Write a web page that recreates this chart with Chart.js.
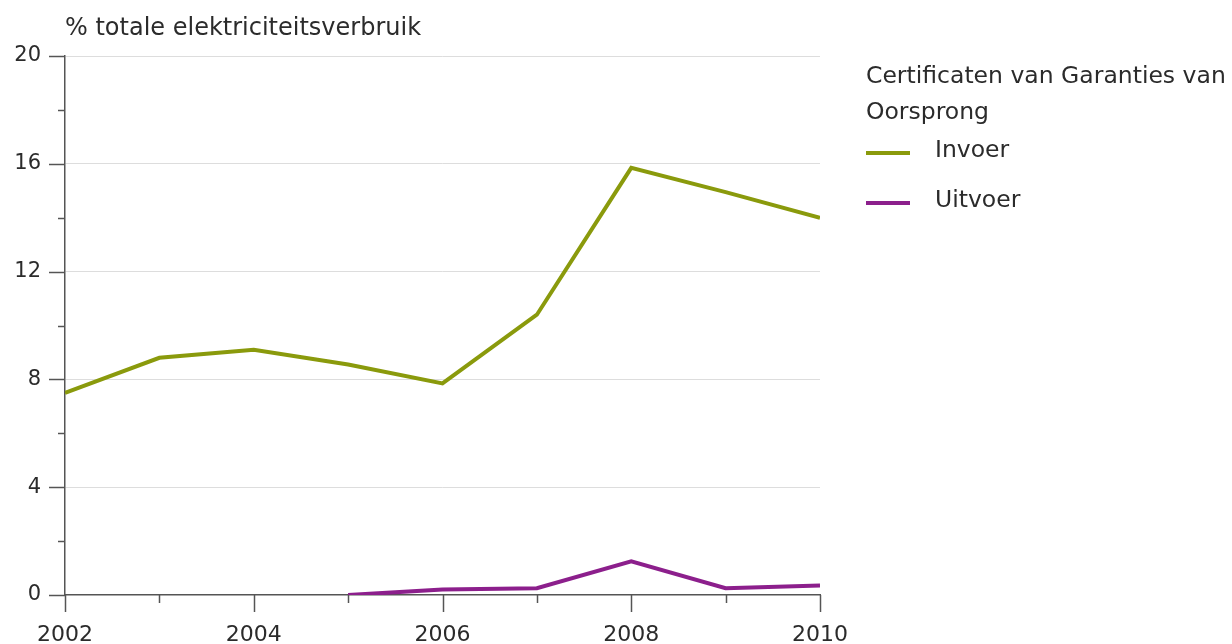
<!DOCTYPE html>
<html>
<head>
<meta charset="utf-8">
<script src="https://cdn.jsdelivr.net/npm/chart.js@4.4.0/dist/chart.umd.min.js"></script>
<style>
  html, body { margin: 0; padding: 0; background: #fff; }
  #wrap { width: 1232px; height: 644px; }
</style>
</head>
<body>
<div id="wrap"><canvas id="myChart" width="1232" height="644"></canvas></div>
<script>
// data
var years = [2002, 2003, 2004, 2005, 2006, 2007, 2008, 2009, 2010];
var invoer = [7.5, 8.8, 9.1, 8.55, 7.85, 10.4, 15.85, 14.95, 14.0];
var uitvoerYears = [2005, 2006, 2007, 2008, 2009, 2010];
var uitvoer = [0.0, 0.2, 0.25, 1.25, 0.25, 0.35];
var yTicks = [0, 4, 8, 12, 16, 20];

var unitLabel = '% totale elektriciteitsverbruik';
var legendTitle = ['Certificaten van Garanties van', 'Oorsprong'];
var seriesNames = ['Invoer', 'Uitvoer'];
var seriesColors = ['#8a9a0c', '#8c1f8c'];

var fontFamily = '"DejaVu Sans", "Open Sans", sans-serif';
var textColor = '#2b2b2b';
var axisColor = '#555555';

function toPoints(xs, ys) {
    return xs.map(function (x, i) { return { x: x, y: ys[i] }; });
}

// axis ticks, unit label and legend
var extrasPlugin = {
    id: 'extras',
    afterDraw: function (chart) {
        var ctx = chart.ctx;
        var xs = chart.scales.x;
        var ys = chart.scales.y;
        var area = chart.chartArea;
        ctx.save();
        ctx.strokeStyle = axisColor;
        ctx.lineWidth = 1.5;
        // y ticks every 2, long ones at labels
        for (var v = 0; v <= 20; v += 2) {
            var py = Math.round(ys.getPixelForValue(v)) + 0.5;
            var len = (v % 4 === 0) ? 16 : 7;
            ctx.beginPath();
            ctx.moveTo(area.left - len, py);
            ctx.lineTo(area.left, py);
            ctx.stroke();
        }
        // x ticks every year
        years.forEach(function (yr) {
            var px = Math.round(xs.getPixelForValue(yr)) + 0.5;
            var len = (yr % 2 === 0) ? 17 : 8;
            ctx.beginPath();
            ctx.moveTo(px, area.bottom);
            ctx.lineTo(px, area.bottom + len);
            ctx.stroke();
        });

        ctx.fillStyle = textColor;
        ctx.textBaseline = 'alphabetic';
        ctx.textAlign = 'left';
        ctx.font = '24px ' + fontFamily;
        ctx.fillText(unitLabel, area.left, 35);

        // legend
        var lx = 866;
        ctx.font = '23.5px ' + fontFamily;
        ctx.fillText(legendTitle[0], lx, 83);
        ctx.fillText(legendTitle[1], lx, 119);
        var rows = [153, 203];
        seriesNames.forEach(function (name, i) {
            ctx.strokeStyle = seriesColors[i];
            ctx.lineWidth = 4;
            ctx.beginPath();
            ctx.moveTo(lx, rows[i]);
            ctx.lineTo(lx + 44, rows[i]);
            ctx.stroke();
            ctx.fillStyle = textColor;
            ctx.textBaseline = 'middle';
            ctx.fillText(name, lx + 69, rows[i] - 2);
        });
        ctx.restore();
    }
};

var ctx = document.getElementById('myChart');
var myChart = new Chart(ctx, {
    type: 'line',
    data: {
        datasets: [
            {
                label: seriesNames[0],
                data: toPoints(years, invoer),
                borderColor: seriesColors[0],
                borderWidth: 4,
                pointRadius: 0,
                tension: 0,
                fill: false
            },
            {
                label: seriesNames[1],
                data: toPoints(uitvoerYears, uitvoer),
                borderColor: seriesColors[1],
                borderWidth: 4,
                pointRadius: 0,
                tension: 0,
                fill: false
            }
        ]
    },
    options: {
        responsive: false,
        animation: false,
        layout: {
            padding: { left: 5, right: 412, top: 56, bottom: 0 }
        },
        plugins: {
            legend: { display: false },
            tooltip: { enabled: false }
        },
        scales: {
            x: {
                type: 'linear',
                min: 2002,
                max: 2010,
                afterBuildTicks: function (scale) {
                    scale.ticks = years.filter(function (y) { return y % 2 === 0; }).map(function (y) { return { value: y }; });
                },
                afterFit: function (scale) { scale.height = 49; },
                grid: { display: false, drawTicks: false },
                border: { display: true, color: axisColor, width: 1.5 },
                ticks: {
                    padding: 27,
                    maxRotation: 0,
                    autoSkip: false,
                    color: textColor,
                    font: { family: fontFamily, size: 22 },
                    callback: function (v) { return String(v); }
                }
            },
            y: {
                min: 0,
                max: 20,
                afterBuildTicks: function (scale) {
                    scale.ticks = yTicks.map(function (v) { return { value: v }; });
                },
                afterFit: function (scale) { scale.width = 60; },
                grid: {
                    drawTicks: false,
                    color: function (c) { return c.tick && c.tick.value === 0 ? 'rgba(0,0,0,0)' : '#dddddd'; },
                    lineWidth: 1
                },
                border: { display: true, color: axisColor, width: 1.5 },
                ticks: {
                    padding: 24,
                    color: textColor,
                    font: { family: fontFamily, size: 21 }
                }
            }
        }
    },
    plugins: [extrasPlugin]
});
</script>
</body>
</html>
